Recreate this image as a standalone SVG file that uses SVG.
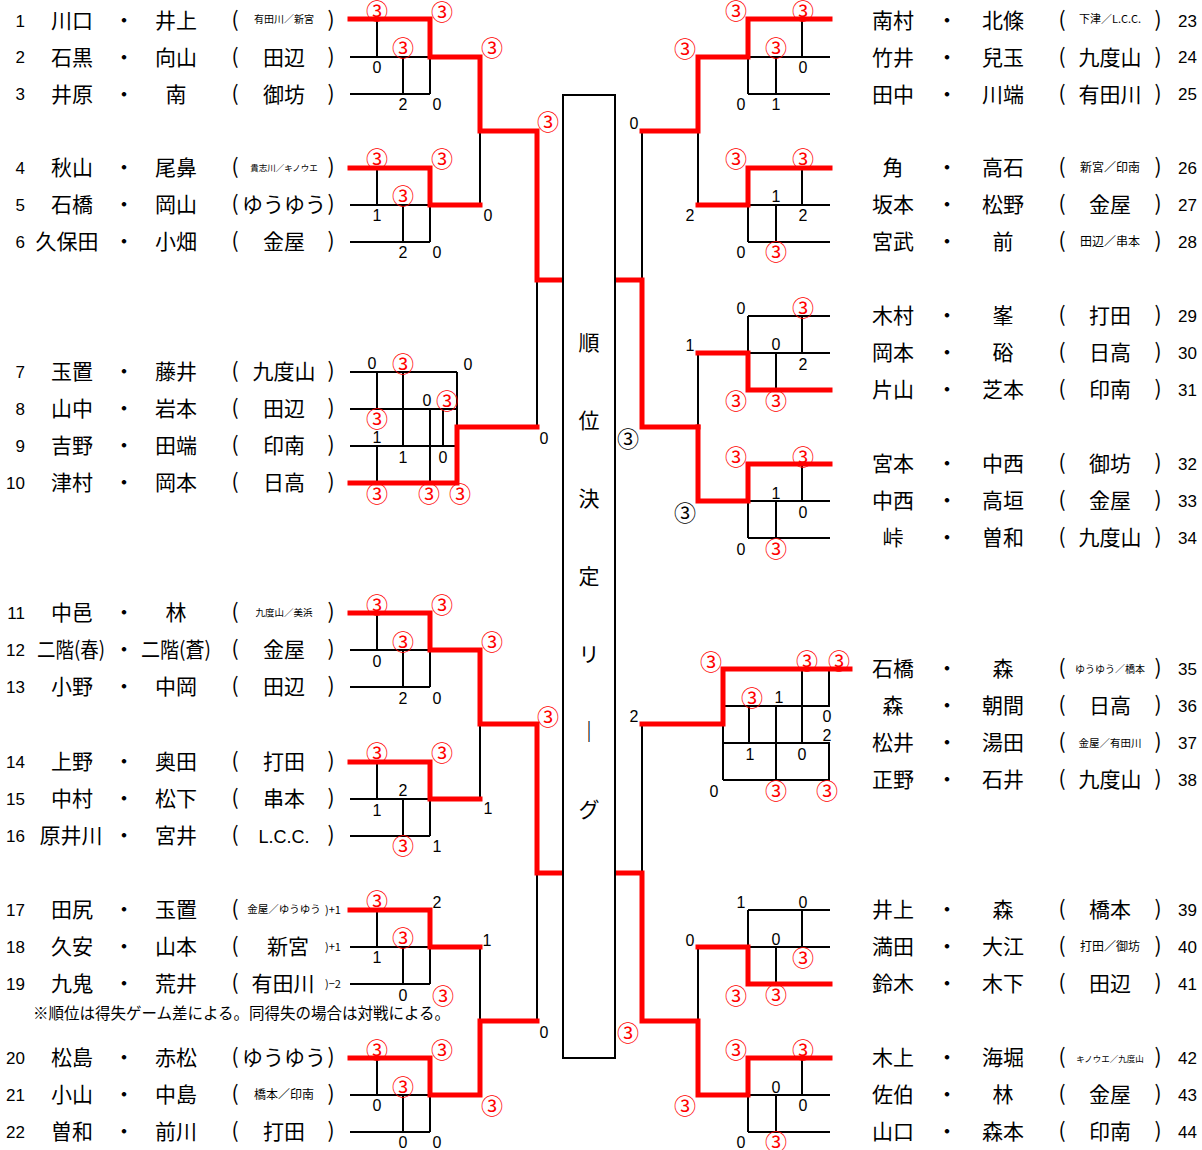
<svg xmlns="http://www.w3.org/2000/svg" width="1202" height="1150" viewBox="0 0 1202 1150">
<style>
.k{stroke:#000;stroke-width:2;fill:none}
.r{stroke:#f00;stroke-width:5;fill:none;stroke-linejoin:miter;stroke-linecap:square}
text{font-family:"Noto Sans CJK JP","Liberation Sans",sans-serif;fill:#000}
.nm{font-size:21px;text-anchor:middle}
.no{font-family:"Liberation Sans",sans-serif;font-size:17px}
.ne{text-anchor:end}
.sm{font-size:10px;text-anchor:middle}
.d{font-family:"Liberation Sans",sans-serif;font-size:16px;text-anchor:middle}
.c{font-size:22px;text-anchor:middle;fill:#f00;transform:translateY(2px)}
.cb{font-size:22px;text-anchor:middle;fill:#000;transform:translateY(2px)}
.v{font-size:21px;text-anchor:middle}
.note{font-size:15.5px}
</style>
<rect width="1202" height="1150" fill="#fff"/>
<g id="connectors">
<path class="k" d="M350 57H430M350 94H430M377 19V57M403 57V94M430 57V94"/>
<path class="k" d="M350 205H430M350 242H430M377 168V205M403 205V242M430 205V242M480 131V205"/>
<path class="k" d="M350 372H457M350 409H457M350 446H457M377 372V409M377 446V483M403 372V446M430 409V483M443 409V446M457 372V427M537 280V427"/>
<path class="k" d="M350 650H430M350 687H430M377 613V650M403 650V687M430 650V687"/>
<path class="k" d="M350 799H430M350 836H430M377 762V799M403 799V836M430 799V836M480 724V799"/>
<path class="k" d="M350 947H430M350 984H430M377 910V947M403 947V984M430 947V984M480 947V1021M537 873V1021"/>
<path class="k" d="M350 1095H430M350 1132H430M377 1058V1095M403 1095V1132M430 1095V1132"/>
<path class="k" d="M748 57H830M748 94H830M748 57V94M776 57V94M802 19V57M642 131V280"/>
<path class="k" d="M748 205H830M748 242H830M748 205V242M776 205V242M802 168V205M698 131V205"/>
<path class="k" d="M748 316H830M748 353H830M748 316V353M776 353V390M802 316V353M698 353V427"/>
<path class="k" d="M748 501H830M748 538H830M748 501V538M776 501V538M802 464V501"/>
<path class="k" d="M723 706H830M723 743H830M723 780H830M723 706V780M749 706V743M776 706V780M802 669V743M829 669V706M829 743V780M642 724V873"/>
<path class="k" d="M748 910H830M748 947H830M748 910V947M776 947V984M802 910V947M698 947V1021"/>
<path class="k" d="M748 1095H830M748 1132H830M748 1095V1132M776 1095V1132M802 1058V1095"/>
<path class="r" d="M350 19H430V57H480V131H537V280H563"/>
<path class="r" d="M350 168H430V205H480"/>
<path class="r" d="M350 483H457V427H537"/>
<path class="r" d="M350 613H430V650H480V724H537V873H563"/>
<path class="r" d="M350 762H430V799H480"/>
<path class="r" d="M350 910H430V947H480"/>
<path class="r" d="M350 1058H430V1095H480V1021H537"/>
<path class="r" d="M830 19H748V57H698V131H642"/>
<path class="r" d="M615 280H642V427H698"/>
<path class="r" d="M830 168H748V205H698"/>
<path class="r" d="M830 390H748V353H698"/>
<path class="r" d="M830 464H748V501H698V427"/>
<path class="r" d="M850 669H723V724H642"/>
<path class="r" d="M830 984H748V947H698"/>
<path class="r" d="M615 873H642V1021H698V1095H748V1058H830"/>
</g>
<g id="league">
<rect x="563" y="95" width="52" height="963" fill="#fff" stroke="#000" stroke-width="2"/>
<text class="v" x="589" y="350">順</text>
<text class="v" x="589" y="428">位</text>
<text class="v" x="589" y="506">決</text>
<text class="v" x="589" y="584">定</text>
<text class="v" x="589" y="662">リ</text>
<text class="v" x="589" y="739" style="font-weight:bold">｜</text>
<text class="v" x="589" y="817">グ</text>
</g>
<g id="scores">
<text class="c" x="377" y="17">③</text><text class="c" x="442" y="18">③</text><text class="c" x="403" y="54">③</text><text class="d" x="377" y="73">0</text><text class="d" x="403" y="110">2</text><text class="d" x="437" y="110">0</text><text class="c" x="492" y="54">③</text><text class="c" x="548" y="128">③</text>
<text class="c" x="377" y="165">③</text><text class="c" x="442" y="165">③</text><text class="c" x="403" y="202">③</text><text class="d" x="377" y="221">1</text><text class="d" x="403" y="258">2</text><text class="d" x="437" y="258">0</text><text class="d" x="488" y="221">0</text>
<text class="d" x="372" y="369">0</text><text class="c" x="403" y="370">③</text><text class="d" x="468" y="370">0</text><text class="d" x="427" y="406">0</text><text class="c" x="447" y="407">③</text><text class="c" x="377" y="425">③</text><text class="d" x="377" y="443">1</text><text class="d" x="403" y="463">1</text><text class="d" x="443" y="463">0</text><text class="c" x="377" y="500">③</text><text class="c" x="429" y="500">③</text><text class="c" x="460" y="500">③</text><text class="d" x="544" y="444">0</text>
<text class="c" x="377" y="611">③</text><text class="c" x="442" y="611">③</text><text class="c" x="403" y="648">③</text><text class="d" x="377" y="667">0</text><text class="d" x="403" y="704">2</text><text class="d" x="437" y="704">0</text><text class="c" x="492" y="648">③</text><text class="c" x="548" y="723">③</text>
<text class="c" x="377" y="759">③</text><text class="c" x="442" y="759">③</text><text class="d" x="403" y="796">2</text><text class="d" x="377" y="816">1</text><text class="c" x="403" y="852">③</text><text class="d" x="437" y="852">1</text><text class="d" x="488" y="814">1</text>
<text class="c" x="377" y="907">③</text><text class="d" x="437" y="908">2</text><text class="c" x="403" y="944">③</text><text class="d" x="377" y="963">1</text><text class="d" x="403" y="1001">0</text><text class="c" x="443" y="1002">③</text><text class="d" x="487" y="946">1</text>
<text class="c" x="377" y="1056">③</text><text class="c" x="442" y="1056">③</text><text class="c" x="403" y="1093">③</text><text class="d" x="377" y="1111">0</text><text class="d" x="403" y="1148">0</text><text class="d" x="437" y="1148">0</text><text class="c" x="492" y="1112">③</text><text class="d" x="544" y="1038">0</text>
<text class="c" x="736" y="17">③</text><text class="c" x="803" y="17">③</text><text class="c" x="776" y="54">③</text><text class="d" x="803" y="73">0</text><text class="d" x="741" y="110">0</text><text class="d" x="776" y="110">1</text><text class="c" x="685" y="55">③</text><text class="d" x="634" y="129">0</text>
<text class="c" x="736" y="165">③</text><text class="c" x="803" y="165">③</text><text class="d" x="776" y="202">1</text><text class="d" x="803" y="221">2</text><text class="d" x="741" y="258">0</text><text class="c" x="776" y="258">③</text><text class="d" x="690" y="221">2</text>
<text class="d" x="741" y="314">0</text><text class="c" x="803" y="314">③</text><text class="d" x="690" y="351">1</text><text class="d" x="776" y="350">0</text><text class="d" x="803" y="370">2</text><text class="c" x="736" y="407">③</text><text class="c" x="776" y="407">③</text><text class="cb" x="628" y="445">③</text>
<text class="c" x="736" y="463">③</text><text class="c" x="803" y="463">③</text><text class="d" x="776" y="499">1</text><text class="d" x="803" y="518">0</text><text class="d" x="741" y="555">0</text><text class="c" x="776" y="555">③</text><text class="cb" x="685" y="519">③</text>
<text class="c" x="711" y="668">③</text><text class="c" x="807" y="667">③</text><text class="c" x="839" y="667">③</text><text class="c" x="752" y="704">③</text><text class="d" x="779" y="703">1</text><text class="d" x="827" y="722">0</text><text class="d" x="827" y="741">2</text><text class="d" x="750" y="760">1</text><text class="d" x="802" y="760">0</text><text class="d" x="714" y="797">0</text><text class="c" x="776" y="797">③</text><text class="c" x="827" y="797">③</text><text class="d" x="634" y="722">2</text>
<text class="d" x="741" y="908">1</text><text class="d" x="803" y="908">0</text><text class="d" x="690" y="946">0</text><text class="d" x="776" y="945">0</text><text class="c" x="803" y="964">③</text><text class="c" x="736" y="1002">③</text><text class="c" x="776" y="1001">③</text><text class="c" x="628" y="1039">③</text>
<text class="c" x="736" y="1056">③</text><text class="c" x="803" y="1056">③</text><text class="d" x="776" y="1093">0</text><text class="d" x="803" y="1111">0</text><text class="d" x="741" y="1148">0</text><text class="c" x="776" y="1148">③</text><text class="c" x="685" y="1112">③</text>
</g>
<g id="left-entries">
<g id="p1"><text class="no ne" x="25" y="27">1</text><text class="nm" x="72" y="28">川口</text><text class="nm" x="124" y="28">・</text><text class="nm" x="176" y="28">井上</text><text class="nm" x="235" y="27">(</text><text class="sm" x="284" y="23">有田川／新宮</text><text class="nm" x="331" y="27">)</text></g>
<g id="p2"><text class="no ne" x="25" y="63">2</text><text class="nm" x="72" y="65">石黒</text><text class="nm" x="124" y="65">・</text><text class="nm" x="176" y="65">向山</text><text class="nm" x="235" y="64">(</text><text class="nm" x="284" y="65">田辺</text><text class="nm" x="331" y="64">)</text></g>
<g id="p3"><text class="no ne" x="25" y="100">3</text><text class="nm" x="72" y="102">井原</text><text class="nm" x="124" y="102">・</text><text class="nm" x="176" y="102">南</text><text class="nm" x="235" y="101">(</text><text class="nm" x="284" y="102">御坊</text><text class="nm" x="331" y="101">)</text></g>
<g id="p4"><text class="no ne" x="25" y="174">4</text><text class="nm" x="72" y="175">秋山</text><text class="nm" x="124" y="175">・</text><text class="nm" x="176" y="175">尾鼻</text><text class="nm" x="235" y="174">(</text><text class="sm" x="284" y="171" style="font-size:8.5px">貴志川／キノウエ</text><text class="nm" x="331" y="174">)</text></g>
<g id="p5"><text class="no ne" x="25" y="211">5</text><text class="nm" x="72" y="212">石橋</text><text class="nm" x="124" y="212">・</text><text class="nm" x="176" y="212">岡山</text><text class="nm" x="235" y="211">(</text><text class="nm" x="284" y="212">ゆうゆう</text><text class="nm" x="331" y="211">)</text></g>
<g id="p6"><text class="no ne" x="25" y="248">6</text><text class="nm" x="67" y="249">久保田</text><text class="nm" x="124" y="249">・</text><text class="nm" x="176" y="249">小畑</text><text class="nm" x="235" y="248">(</text><text class="nm" x="284" y="249">金屋</text><text class="nm" x="331" y="248">)</text></g>
<g id="p7"><text class="no ne" x="25" y="378">7</text><text class="nm" x="72" y="379">玉置</text><text class="nm" x="124" y="379">・</text><text class="nm" x="176" y="379">藤井</text><text class="nm" x="235" y="378">(</text><text class="nm" x="284" y="379">九度山</text><text class="nm" x="331" y="378">)</text></g>
<g id="p8"><text class="no ne" x="25" y="415">8</text><text class="nm" x="72" y="416">山中</text><text class="nm" x="124" y="416">・</text><text class="nm" x="176" y="416">岩本</text><text class="nm" x="235" y="415">(</text><text class="nm" x="284" y="416">田辺</text><text class="nm" x="331" y="415">)</text></g>
<g id="p9"><text class="no ne" x="25" y="452">9</text><text class="nm" x="72" y="453">吉野</text><text class="nm" x="124" y="453">・</text><text class="nm" x="176" y="453">田端</text><text class="nm" x="235" y="452">(</text><text class="nm" x="284" y="453">印南</text><text class="nm" x="331" y="452">)</text></g>
<g id="p10"><text class="no ne" x="25" y="489">10</text><text class="nm" x="72" y="490">津村</text><text class="nm" x="124" y="490">・</text><text class="nm" x="176" y="490">岡本</text><text class="nm" x="235" y="489">(</text><text class="nm" x="284" y="490">日高</text><text class="nm" x="331" y="489">)</text></g>
<g id="p11"><text class="no ne" x="25" y="619">11</text><text class="nm" x="72" y="620">中邑</text><text class="nm" x="124" y="620">・</text><text class="nm" x="176" y="620">林</text><text class="nm" x="235" y="619">(</text><text class="sm" x="284" y="616" style="font-size:9.5px">九度山／美浜</text><text class="nm" x="331" y="619">)</text></g>
<g id="p12"><text class="no ne" x="25" y="656">12</text><text class="nm" x="71" y="657" textLength="68" lengthAdjust="spacingAndGlyphs">二階(春)</text><text class="nm" x="124" y="657">・</text><text class="nm" x="176" y="657" textLength="70" lengthAdjust="spacingAndGlyphs">二階(蒼)</text><text class="nm" x="235" y="656">(</text><text class="nm" x="284" y="657">金屋</text><text class="nm" x="331" y="656">)</text></g>
<g id="p13"><text class="no ne" x="25" y="693">13</text><text class="nm" x="72" y="694">小野</text><text class="nm" x="124" y="694">・</text><text class="nm" x="176" y="694">中岡</text><text class="nm" x="235" y="693">(</text><text class="nm" x="284" y="694">田辺</text><text class="nm" x="331" y="693">)</text></g>
<g id="p14"><text class="no ne" x="25" y="768">14</text><text class="nm" x="72" y="769">上野</text><text class="nm" x="124" y="769">・</text><text class="nm" x="176" y="769">奥田</text><text class="nm" x="235" y="768">(</text><text class="nm" x="284" y="769">打田</text><text class="nm" x="331" y="768">)</text></g>
<g id="p15"><text class="no ne" x="25" y="805">15</text><text class="nm" x="72" y="806">中村</text><text class="nm" x="124" y="806">・</text><text class="nm" x="176" y="806">松下</text><text class="nm" x="235" y="805">(</text><text class="nm" x="284" y="806">串本</text><text class="nm" x="331" y="805">)</text></g>
<g id="p16"><text class="no ne" x="25" y="842">16</text><text class="nm" x="71" y="843">原井川</text><text class="nm" x="124" y="843">・</text><text class="nm" x="176" y="843">宮井</text><text class="nm" x="235" y="842">(</text><text class="nm" x="284" y="843" style="font-family:'Liberation Sans',sans-serif;font-size:18px">L.C.C.</text><text class="nm" x="331" y="842">)</text></g>
<g id="p17"><text class="no ne" x="25" y="916">17</text><text class="nm" x="72" y="917">田尻</text><text class="nm" x="124" y="917">・</text><text class="nm" x="176" y="917">玉置</text><text class="nm" x="235" y="916">(</text><text class="sm" x="284" y="913" style="font-size:10.5px">金屋／ゆうゆう</text><text x="325" y="914" style="font-size:11px">)+1</text></g>
<g id="p18"><text class="no ne" x="25" y="953">18</text><text class="nm" x="72" y="954">久安</text><text class="nm" x="124" y="954">・</text><text class="nm" x="176" y="954">山本</text><text class="nm" x="235" y="953">(</text><text class="nm" x="288" y="954">新宮</text><text x="325" y="951" style="font-size:11px">)+1</text></g>
<g id="p19"><text class="no ne" x="25" y="990">19</text><text class="nm" x="72" y="991">九鬼</text><text class="nm" x="124" y="991">・</text><text class="nm" x="176" y="991">荒井</text><text class="nm" x="235" y="990">(</text><text class="nm" x="283" y="991">有田川</text><text x="325" y="988" style="font-size:11px">)−2</text></g>
<g id="p20"><text class="no ne" x="25" y="1064">20</text><text class="nm" x="72" y="1065">松島</text><text class="nm" x="124" y="1065">・</text><text class="nm" x="176" y="1065">赤松</text><text class="nm" x="235" y="1064">(</text><text class="nm" x="284" y="1065">ゆうゆう</text><text class="nm" x="331" y="1064">)</text></g>
<g id="p21"><text class="no ne" x="25" y="1101">21</text><text class="nm" x="72" y="1102">小山</text><text class="nm" x="124" y="1102">・</text><text class="nm" x="176" y="1102">中島</text><text class="nm" x="235" y="1101">(</text><text class="sm" x="284" y="1099" style="font-size:12px">橋本／印南</text><text class="nm" x="331" y="1101">)</text></g>
<g id="p22"><text class="no ne" x="25" y="1138">22</text><text class="nm" x="72" y="1139">曽和</text><text class="nm" x="124" y="1139">・</text><text class="nm" x="176" y="1139">前川</text><text class="nm" x="235" y="1138">(</text><text class="nm" x="284" y="1139">打田</text><text class="nm" x="331" y="1138">)</text></g>
</g>
<g id="right-entries">
<g id="p23"><text class="nm" x="893" y="28">南村</text><text class="nm" x="947" y="28">・</text><text class="nm" x="1003" y="28">北條</text><text class="nm" x="1062" y="27">(</text><text class="sm" x="1110" y="23" style="font-size:11px">下津／L.C.C.</text><text class="nm" x="1158" y="27">)</text><text class="no" x="1178" y="27">23</text></g>
<g id="p24"><text class="nm" x="893" y="65">竹井</text><text class="nm" x="947" y="65">・</text><text class="nm" x="1003" y="65">兒玉</text><text class="nm" x="1062" y="64">(</text><text class="nm" x="1110" y="65">九度山</text><text class="nm" x="1158" y="64">)</text><text class="no" x="1178" y="63">24</text></g>
<g id="p25"><text class="nm" x="893" y="102">田中</text><text class="nm" x="947" y="102">・</text><text class="nm" x="1003" y="102">川端</text><text class="nm" x="1062" y="101">(</text><text class="nm" x="1110" y="102">有田川</text><text class="nm" x="1158" y="101">)</text><text class="no" x="1178" y="100">25</text></g>
<g id="p26"><text class="nm" x="893" y="175">角</text><text class="nm" x="947" y="175">・</text><text class="nm" x="1003" y="175">高石</text><text class="nm" x="1062" y="174">(</text><text class="sm" x="1110" y="172" style="font-size:12px">新宮／印南</text><text class="nm" x="1158" y="174">)</text><text class="no" x="1178" y="174">26</text></g>
<g id="p27"><text class="nm" x="893" y="212">坂本</text><text class="nm" x="947" y="212">・</text><text class="nm" x="1003" y="212">松野</text><text class="nm" x="1062" y="211">(</text><text class="nm" x="1110" y="212">金屋</text><text class="nm" x="1158" y="211">)</text><text class="no" x="1178" y="211">27</text></g>
<g id="p28"><text class="nm" x="893" y="249">宮武</text><text class="nm" x="947" y="249">・</text><text class="nm" x="1003" y="249">前</text><text class="nm" x="1062" y="248">(</text><text class="sm" x="1110" y="246" style="font-size:12px">田辺／串本</text><text class="nm" x="1158" y="248">)</text><text class="no" x="1178" y="248">28</text></g>
<g id="p29"><text class="nm" x="893" y="323">木村</text><text class="nm" x="947" y="323">・</text><text class="nm" x="1003" y="323">峯</text><text class="nm" x="1062" y="322">(</text><text class="nm" x="1110" y="323">打田</text><text class="nm" x="1158" y="322">)</text><text class="no" x="1178" y="322">29</text></g>
<g id="p30"><text class="nm" x="893" y="360">岡本</text><text class="nm" x="947" y="360">・</text><text class="nm" x="1003" y="360">硲</text><text class="nm" x="1062" y="359">(</text><text class="nm" x="1110" y="360">日高</text><text class="nm" x="1158" y="359">)</text><text class="no" x="1178" y="359">30</text></g>
<g id="p31"><text class="nm" x="893" y="397">片山</text><text class="nm" x="947" y="397">・</text><text class="nm" x="1003" y="397">芝本</text><text class="nm" x="1062" y="396">(</text><text class="nm" x="1110" y="397">印南</text><text class="nm" x="1158" y="396">)</text><text class="no" x="1178" y="396">31</text></g>
<g id="p32"><text class="nm" x="893" y="471">宮本</text><text class="nm" x="947" y="471">・</text><text class="nm" x="1003" y="471">中西</text><text class="nm" x="1062" y="470">(</text><text class="nm" x="1110" y="471">御坊</text><text class="nm" x="1158" y="470">)</text><text class="no" x="1178" y="470">32</text></g>
<g id="p33"><text class="nm" x="893" y="508">中西</text><text class="nm" x="947" y="508">・</text><text class="nm" x="1003" y="508">高垣</text><text class="nm" x="1062" y="507">(</text><text class="nm" x="1110" y="508">金屋</text><text class="nm" x="1158" y="507">)</text><text class="no" x="1178" y="507">33</text></g>
<g id="p34"><text class="nm" x="893" y="545">峠</text><text class="nm" x="947" y="545">・</text><text class="nm" x="1003" y="545">曽和</text><text class="nm" x="1062" y="544">(</text><text class="nm" x="1110" y="545">九度山</text><text class="nm" x="1158" y="544">)</text><text class="no" x="1178" y="544">34</text></g>
<g id="p35"><text class="nm" x="893" y="676">石橋</text><text class="nm" x="947" y="676">・</text><text class="nm" x="1003" y="676">森</text><text class="nm" x="1062" y="675">(</text><text class="sm" x="1110" y="673" style="font-size:10px">ゆうゆう／橋本</text><text class="nm" x="1158" y="675">)</text><text class="no" x="1178" y="675">35</text></g>
<g id="p36"><text class="nm" x="893" y="713">森</text><text class="nm" x="947" y="713">・</text><text class="nm" x="1003" y="713">朝間</text><text class="nm" x="1062" y="712">(</text><text class="nm" x="1110" y="713">日高</text><text class="nm" x="1158" y="712">)</text><text class="no" x="1178" y="712">36</text></g>
<g id="p37"><text class="nm" x="893" y="750">松井</text><text class="nm" x="947" y="750">・</text><text class="nm" x="1003" y="750">湯田</text><text class="nm" x="1062" y="749">(</text><text class="sm" x="1110" y="747" style="font-size:10.5px">金屋／有田川</text><text class="nm" x="1158" y="749">)</text><text class="no" x="1178" y="749">37</text></g>
<g id="p38"><text class="nm" x="893" y="787">正野</text><text class="nm" x="947" y="787">・</text><text class="nm" x="1003" y="787">石井</text><text class="nm" x="1062" y="786">(</text><text class="nm" x="1110" y="787">九度山</text><text class="nm" x="1158" y="786">)</text><text class="no" x="1178" y="786">38</text></g>
<g id="p39"><text class="nm" x="893" y="917">井上</text><text class="nm" x="947" y="917">・</text><text class="nm" x="1003" y="917">森</text><text class="nm" x="1062" y="916">(</text><text class="nm" x="1110" y="917">橋本</text><text class="nm" x="1158" y="916">)</text><text class="no" x="1178" y="916">39</text></g>
<g id="p40"><text class="nm" x="893" y="954">満田</text><text class="nm" x="947" y="954">・</text><text class="nm" x="1003" y="954">大江</text><text class="nm" x="1062" y="953">(</text><text class="sm" x="1110" y="951" style="font-size:12px">打田／御坊</text><text class="nm" x="1158" y="953">)</text><text class="no" x="1178" y="953">40</text></g>
<g id="p41"><text class="nm" x="893" y="991">鈴木</text><text class="nm" x="947" y="991">・</text><text class="nm" x="1003" y="991">木下</text><text class="nm" x="1062" y="990">(</text><text class="nm" x="1110" y="991">田辺</text><text class="nm" x="1158" y="990">)</text><text class="no" x="1178" y="990">41</text></g>
<g id="p42"><text class="nm" x="893" y="1065">木上</text><text class="nm" x="947" y="1065">・</text><text class="nm" x="1003" y="1065">海堀</text><text class="nm" x="1062" y="1064">(</text><text class="sm" x="1110" y="1062" style="font-size:8.5px">キノウエ／九度山</text><text class="nm" x="1158" y="1064">)</text><text class="no" x="1178" y="1064">42</text></g>
<g id="p43"><text class="nm" x="893" y="1102">佐伯</text><text class="nm" x="947" y="1102">・</text><text class="nm" x="1003" y="1102">林</text><text class="nm" x="1062" y="1101">(</text><text class="nm" x="1110" y="1102">金屋</text><text class="nm" x="1158" y="1101">)</text><text class="no" x="1178" y="1101">43</text></g>
<g id="p44"><text class="nm" x="893" y="1139">山口</text><text class="nm" x="947" y="1139">・</text><text class="nm" x="1003" y="1139">森本</text><text class="nm" x="1062" y="1138">(</text><text class="nm" x="1110" y="1139">印南</text><text class="nm" x="1158" y="1138">)</text><text class="no" x="1178" y="1138">44</text></g>
</g>
<text class="note" x="33" y="1019">※順位は得失ゲーム差による。同得失の場合は対戦による。</text>
</svg>
